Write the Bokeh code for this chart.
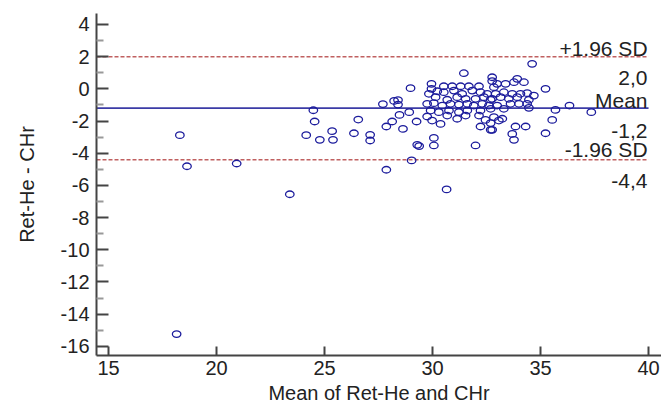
from bokeh.plotting import figure
from bokeh.models import Range1d, FixedTicker, Label
from bokeh.embed import file_html
from bokeh.resources import INLINE

# Bland-Altman data
mean_vals = [
    18.15, 18.30, 18.63, 20.93, 23.39, 24.15, 24.48, 24.54, 24.78, 25.35,
    25.39, 26.36, 26.56, 27.11, 27.11,
    27.70, 28.22, 28.40, 28.40, 28.98, 28.92, 28.47, 28.13, 27.86, 28.63,
    29.26, 29.29, 29.38, 29.03, 27.86, 30.65,
    29.95, 30.52, 30.91, 31.30, 31.68, 32.15, 32.76, 32.84,
    29.83, 30.22, 30.52, 30.99, 31.37, 31.84, 32.22, 32.53,
    30.14, 30.68, 31.14, 31.53, 31.99, 32.38, 32.69,
    29.75, 30.06, 30.45, 30.83, 31.22, 31.61, 31.91, 32.30, 32.61,
    29.91, 30.29, 30.76, 31.22, 31.61, 32.22, 32.69,
    29.75, 29.98, 30.37, 30.68, 31.14, 31.53, 32.15, 32.45, 32.69,
    32.22, 32.69, 30.06, 30.06, 31.99, 31.45, 29.95,
    34.61, 32.76, 32.99, 33.38, 33.77, 34.23, 33.92, 35.23, 34.69, 34.38,
    34.07, 33.69, 33.30, 32.92, 32.76, 33.15, 33.53, 33.92, 34.46, 33.61,
    34.00, 34.38, 34.46, 32.99, 33.30, 35.69, 32.84, 33.23, 33.07, 35.54,
    33.84, 34.31, 32.76, 33.69, 33.77, 35.23,
    36.34, 37.35,
]
diff_vals = [
    -15.24, -2.88, -4.81, -4.64, -6.55, -2.88, -1.33, -2.03, -3.17, -2.63,
    -3.17, -2.76, -1.91, -2.86, -3.21,
    -0.95, -0.75, -0.70, -0.98, 0.04, -1.45, -1.62, -2.03, -2.34, -2.49,
    -2.03, -3.48, -3.56, -4.45, -5.03, -6.25,
    0.31, 0.16, 0.16, 0.16, 0.16, 0.16, 0.48, 0.10,
    -0.31, -0.15, -0.21, -0.11, -0.31, -0.11, -0.21, -0.31,
    -0.52, -0.68, -0.52, -0.62, -0.62, -0.52, -0.68,
    -0.93, -0.89, -1.04, -0.93, -0.98, -0.93, -1.04, -0.93, -1.04,
    -1.35, -1.45, -1.35, -1.45, -1.35, -1.35, -1.24,
    -1.72, -1.97, -2.18, -1.66, -1.86, -1.66, -1.66, -1.93, -2.13,
    -2.34, -2.55, -3.05, -3.52, -3.52, 0.97, 0.00,
    1.55, 0.72, 0.31, 0.31, 0.41, 0.41, 0.62, 0.00, -0.42, -0.27,
    -0.31, -0.31, -0.21, -0.31, -0.62, -0.52, -0.62, -0.52, -0.68, -0.93,
    -0.93, -0.93, -1.18, -1.04, -1.24, -1.31, -1.76, -1.86, -1.97, -1.93,
    -2.34, -2.34, -2.55, -2.80, -3.17, -2.76,
    -1.04, -1.45,
]

mean_diff = -1.2
upper_loa = 2.0
lower_loa = -4.4
line_x = [14.44, 40.0]

x_ticks = [15, 20, 25, 30, 35, 40]
y_ticks = [-16, -14, -12, -10, -8, -6, -4, -2, 0, 2, 4]
y_minor = [-15, -13, -11, -9, -7, -5, -3, -1, 1, 3]

FONT = "Liberation Sans"
AX = "#444444"

p = figure(width=661, height=410, output_backend="svg", toolbar_location=None,
           x_range=Range1d(14.44, 40.60), y_range=Range1d(-16.57, 4.68),
           min_border_left=96, min_border_right=0, min_border_top=13, min_border_bottom=55)
p.outline_line_color = None
p.xgrid.visible = False
p.ygrid.visible = False

# lines
p.line(line_x, [upper_loa, upper_loa], line_color="#c06060", line_width=1.5, line_dash="4 2")
p.line(line_x, [lower_loa, lower_loa], line_color="#c06060", line_width=1.5, line_dash="4 2")
p.line(line_x, [mean_diff, mean_diff], line_color="#3b3ba6", line_width=1.6)

p.ellipse(x=mean_vals, y=diff_vals, width=8.5, height=6.5, width_units="screen",
          height_units="screen", fill_color=None, line_color="#1c1c9c", line_width=1.3)

# axes
for ax in (p.xaxis[0], p.yaxis[0]):
    ax.axis_line_color = AX
    ax.axis_line_width = 2
    ax.major_tick_line_color = AX
    ax.major_tick_line_width = 2
    ax.major_tick_out = 0
    ax.minor_tick_out = 0
    ax.minor_tick_line_color = "#999999"
    ax.minor_tick_line_width = 2
    ax.major_label_text_font = FONT
    ax.major_label_text_font_size = "20px"
    ax.major_label_text_color = "#222222"
    ax.axis_label_text_font = FONT
    ax.axis_label_text_font_size = "20px"
    ax.axis_label_text_font_style = "normal"
    ax.axis_label_text_color = "#222222"

p.xaxis.ticker = FixedTicker(ticks=x_ticks, minor_ticks=[])
p.yaxis.ticker = FixedTicker(ticks=y_ticks, minor_ticks=y_minor)
p.xaxis.major_label_overrides = {t: str(t) for t in x_ticks}
p.yaxis.major_label_overrides = {t: str(t) for t in y_ticks}
p.xaxis.major_tick_in = 9
p.yaxis.major_tick_in = 12
p.yaxis.minor_tick_in = 7
p.xaxis.major_label_standoff = 5
p.yaxis.major_label_standoff = 7
p.xaxis.axis_label_standoff = 4
p.yaxis.axis_label_standoff = 20
p.xaxis.axis_label = "Mean of Ret-He and CHr"
p.yaxis.axis_label = "Ret-He - CHr"

labels = [
    ("+1.96 SD", upper_loa, 8),
    ("2,0", upper_loa, -21),
    ("Mean", mean_diff, 8),
    ("-1,2", mean_diff, -23),
    ("-1.96 SD", lower_loa, 10),
    ("-4,4", lower_loa, -21),
]
for txt, yv, off in labels:
    p.add_layout(Label(x=line_x[1], y=yv, text=txt, text_align="right", text_baseline="alphabetic",
                       x_offset=-1, y_offset=off, text_font=FONT, text_font_size="21px",
                       text_color="#222222"))

open("out.html", "w").write(file_html(p, INLINE))
